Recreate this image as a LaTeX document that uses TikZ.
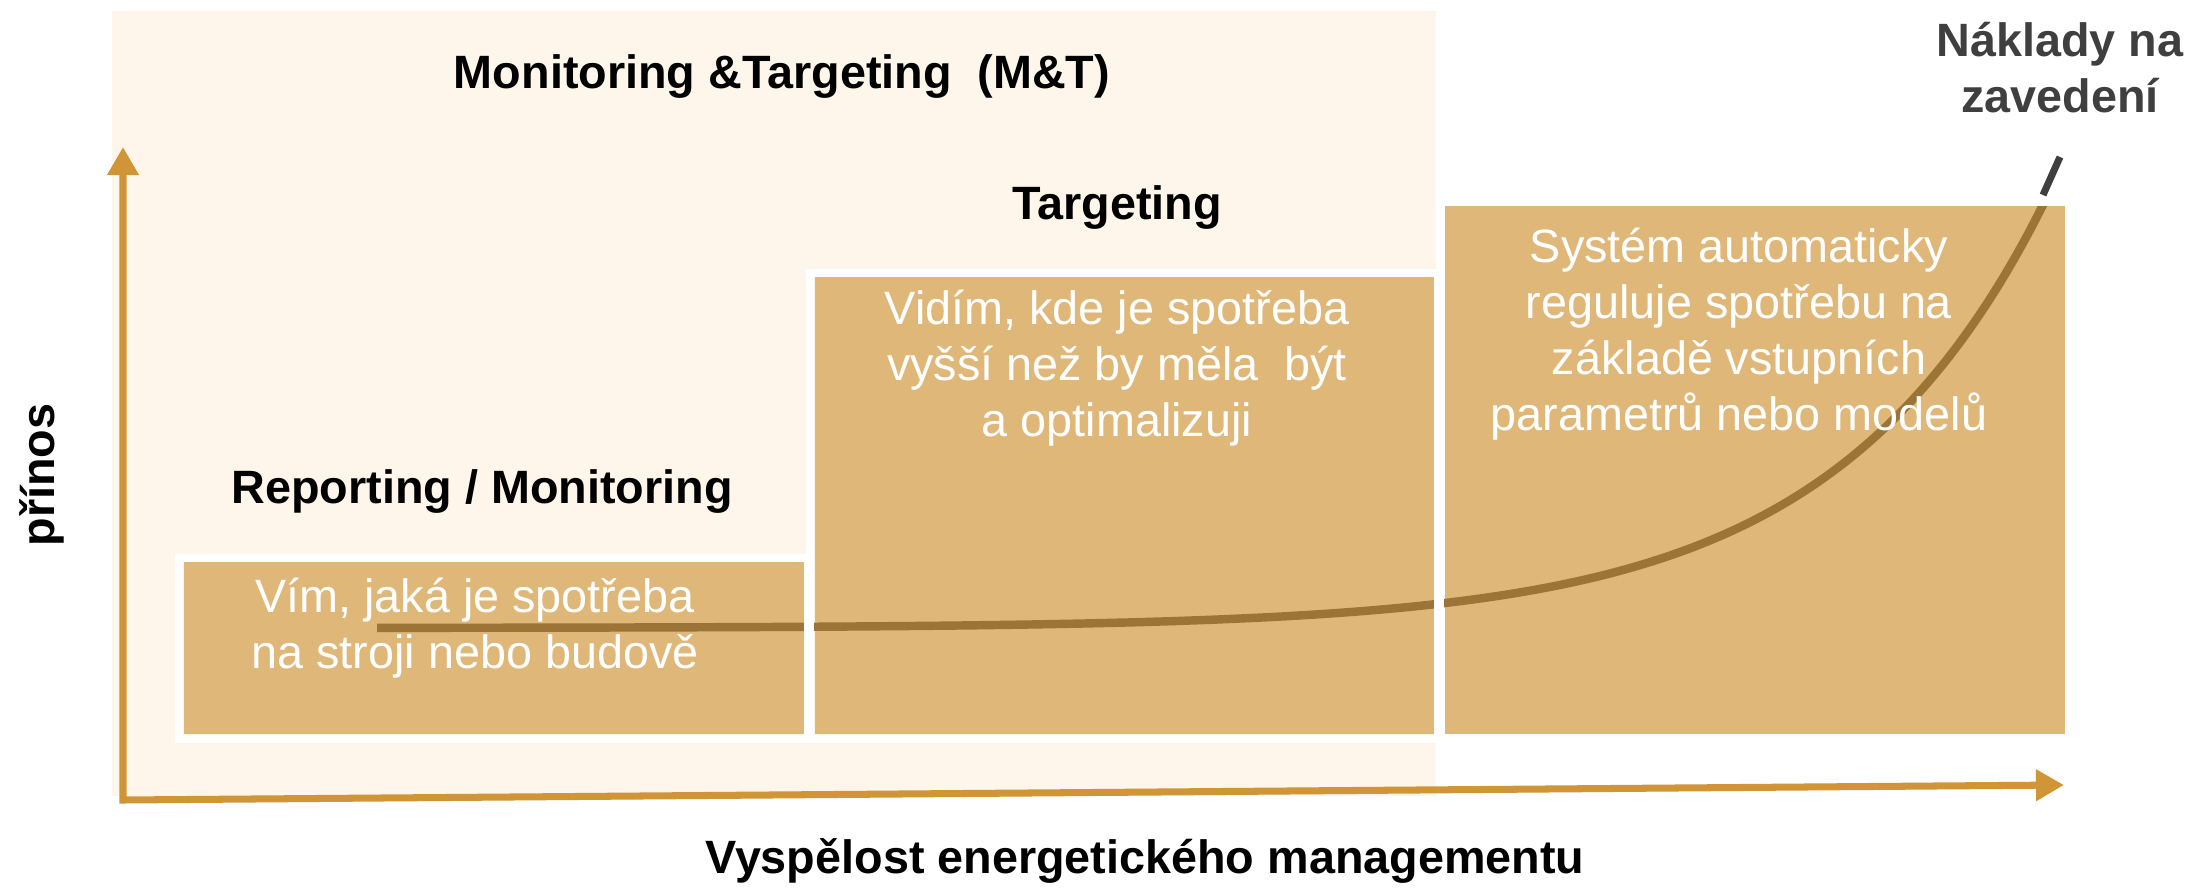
\documentclass[tikz,border=0pt]{standalone}
\usepackage{fontspec}
\setmainfont{Liberation Sans}
\usetikzlibrary{arrows.meta}
\usetikzlibrary{positioning}

\definecolor{palebg}{HTML}{FEF6EA}
\definecolor{tanbox}{HTML}{DFB879}
\definecolor{axisgold}{HTML}{D09536}
\definecolor{curvebrown}{HTML}{9C7437}
\definecolor{leadgray}{HTML}{3F3F3F}

\begin{document}
\begin{tikzpicture}[
    every node/.style={font=\fontsize{13.3}{15.9}\selectfont},
    box/.style={fill=tanbox, anchor=south west, inner sep=0pt},
    frame/.style={draw=white, line width=0.08cm},
    head/.style={font=\fontsize{13.3}{15.9}\selectfont\bfseries, anchor=base},
    boxtext/.style={text=white, align=center, anchor=base},
    axisline/.style={draw=axisgold, line width=2pt, line join=miter,
        {Triangle[width=0.3cm,length=0.28cm]}-{Triangle[width=0.3cm,length=0.28cm]}},
    curve/.style={draw=curvebrown, line width=2.4pt}
]
\useasboundingbox (0,0) rectangle (21.9,8.88);
\fill[palebg] (1.12,0.92) rectangle (14.36,8.77);

% stupne
\node[box, minimum width=6.20cm, minimum height=1.72cm] (b1) at (1.83,1.53) {};
\node[box, minimum width=6.19cm, minimum height=4.57cm] (b2) at (8.14,1.53) {};
\node[box, minimum width=6.20cm, minimum height=5.28cm] (b3) at (14.44,1.53) {};

\draw[curve, smooth, samples=120, domain=3.77:20.44]
    plot ({\x},{2.60+4.21*exp(0.473*(\x-20.42))});

\foreach \b in {b1,b2,b3}
    \draw[frame] ([shift={(-0.04,-0.04)}]\b.south west) rectangle ([shift={(0.04,0.04)}]\b.north east);

% osy
\coordinate (o) at (1.23,0.88);
\coordinate (ytip) at (1.23,7.41);
\coordinate (xtip) at (20.64,1.03);
\draw[axisline] (ytip) -- (o) -- (xtip);

\node[head] (mt) at (7.82,8.00) {Monitoring \&Targeting \ (M\&T)};
\node[head] (tg) at (11.17,6.69) {Targeting};
\node[head] (rm) at (4.82,3.85) {Reporting / Monitoring};
\node[head, rotate=90, anchor=center] (pr) at (0.42,4.13) {přínos};
\node[head] (vy) at (11.45,0.15) {Vyspělost energetického managementu};
\node[head, text=leadgray, align=center] (nk) at (20.60,7.76) {Náklady na\\zavedení};

\node[boxtext] (t1) at (4.75,2.20) {Vím, jaká je spotřeba\\na stroji nebo budově};
\node[boxtext] (t2) at (11.17,4.52) {Vidím, kde je spotřeba\\vyšší než by měla \ být\\a optimalizuji};
\node[boxtext] (t3) at (17.39,4.58) {Systém automaticky\\reguluje spotřebu na\\základě vstupních\\parametrů nebo modelů};

\coordinate (l1) at (20.43,6.93);
\coordinate (l2) at (20.60,7.31);
\draw[draw=leadgray, line width=2pt] (l1) -- (l2);
\end{tikzpicture}
\end{document}
